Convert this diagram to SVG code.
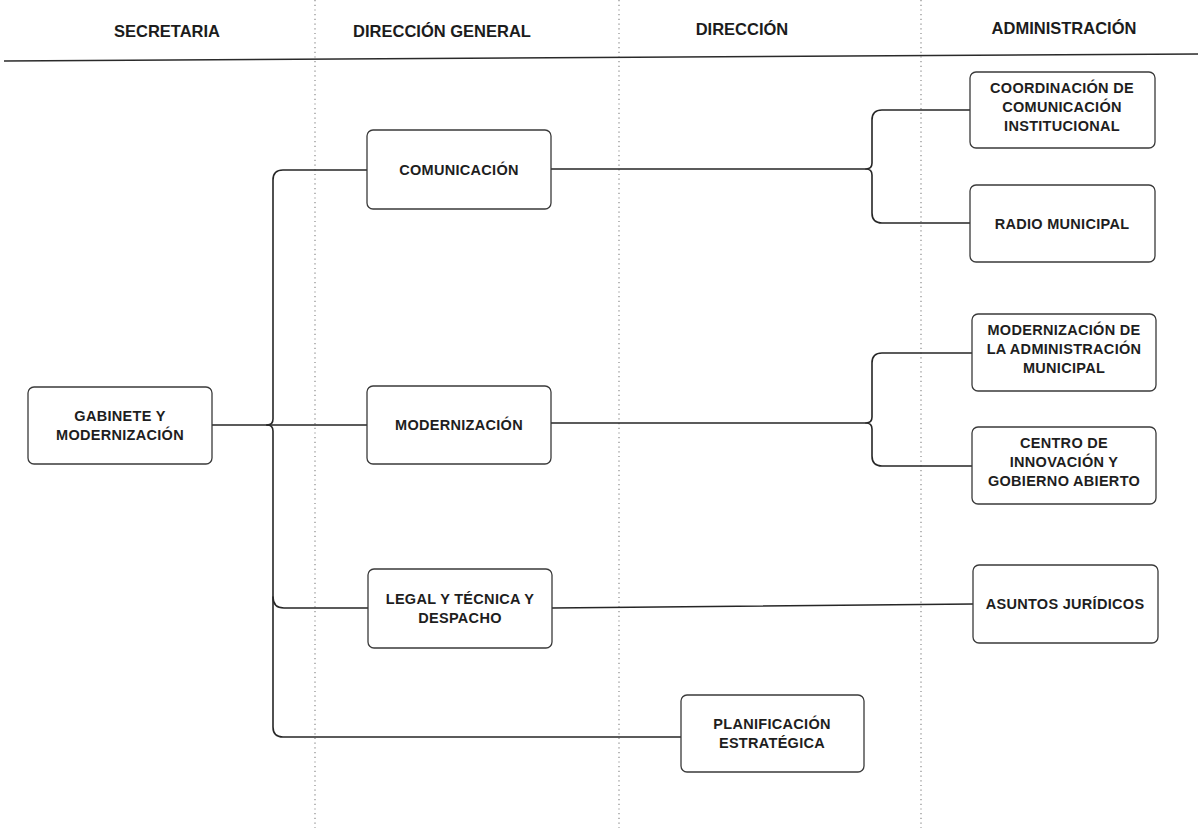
<svg xmlns="http://www.w3.org/2000/svg" width="1198" height="828" viewBox="0 0 1198 828">
<style>
.hdr{font-family:"Liberation Sans",Arial,sans-serif;font-weight:bold;font-size:16.5px;fill:#1c1c1c;text-anchor:middle}
.box{fill:#fff;stroke:#3a3a3a;stroke-width:1.3}
.lbl{font-family:"Liberation Sans",Arial,sans-serif;font-weight:bold;font-size:14.5px;letter-spacing:0.3px;fill:#1e1e1e;text-anchor:middle}
.dot{stroke:#8a8a8a;stroke-width:1.2;stroke-dasharray:1.2 3.5}
.con{fill:none;stroke:#262626;stroke-width:1.6;stroke-linecap:round;stroke-linejoin:round}
</style>
<rect width="1198" height="828" fill="#fff"/>
<g id="grid">
<line class="dot" x1="315" y1="0" x2="315" y2="828"/>
<line class="dot" x1="619" y1="0" x2="619" y2="828"/>
<line class="dot" x1="921" y1="0" x2="921" y2="828"/>
<line x1="4" y1="61" x2="1198" y2="54" stroke="#2a2a2a" stroke-width="1.6"/>
</g>
<g id="headers">
<text class="hdr" x="167" y="37">SECRETARIA</text>
<text class="hdr" x="442" y="37">DIRECCIÓN GENERAL</text>
<text class="hdr" x="742" y="35">DIRECCIÓN</text>
<text class="hdr" x="1064" y="34">ADMINISTRACIÓN</text>
</g>
<g id="connectors">
<path class="con" d="M212 425 H267"/>
<path class="con" d="M367 170 H283 Q273 170 273 180 V419 Q273 425 267 425 Q273 425 273 431 V727 Q273 737 283 737 H681"/>
<path class="con" d="M267 425 H367"/>
<path class="con" d="M273 597 Q273 608 284 608 H368"/>
<path class="con" d="M551 169 H866"/>
<path class="con" d="M970 110 H882 Q872 110 872 120 V163 Q872 169 866 169 Q872 169 872 175 V213 Q872 223 882 223 H970"/>
<path class="con" d="M551 423 H866"/>
<path class="con" d="M972 353 H882 Q872 353 872 363 V417 Q872 423 866 423 Q872 423 872 429 V456 Q872 466 882 466 H972"/>
<path class="con" d="M552 608 L973 604"/>
</g>
<g id="n-gabinete">
<rect class="box" x="28" y="387" width="184" height="77" rx="6"/>
<text class="lbl" x="120" y="421">GABINETE Y</text>
<text class="lbl" x="120" y="440">MODERNIZACIÓN</text>
</g>
<g id="n-comunicacion">
<rect class="box" x="367" y="130" width="184" height="79" rx="6"/>
<text class="lbl" x="459" y="175">COMUNICACIÓN</text>
</g>
<g id="n-modernizacion">
<rect class="box" x="367" y="386" width="184" height="78" rx="6"/>
<text class="lbl" x="459" y="430">MODERNIZACIÓN</text>
</g>
<g id="n-legal">
<rect class="box" x="368" y="569" width="184" height="79" rx="6"/>
<text class="lbl" x="460" y="604">LEGAL Y TÉCNICA Y</text>
<text class="lbl" x="460" y="623">DESPACHO</text>
</g>
<g id="n-planificacion">
<rect class="box" x="681" y="695" width="183" height="77" rx="6"/>
<text class="lbl" x="772" y="729">PLANIFICACIÓN</text>
<text class="lbl" x="772" y="748">ESTRATÉGICA</text>
</g>
<g id="n-coordinacion">
<rect class="box" x="970" y="72" width="185" height="76" rx="6"/>
<text class="lbl" x="1062" y="93">COORDINACIÓN DE</text>
<text class="lbl" x="1062" y="112">COMUNICACIÓN</text>
<text class="lbl" x="1062" y="131">INSTITUCIONAL</text>
</g>
<g id="n-radio">
<rect class="box" x="970" y="185" width="185" height="77" rx="6"/>
<text class="lbl" x="1062" y="229">RADIO MUNICIPAL</text>
</g>
<g id="n-modadm">
<rect class="box" x="972" y="314" width="184" height="77" rx="6"/>
<text class="lbl" x="1064" y="335">MODERNIZACIÓN DE</text>
<text class="lbl" x="1064" y="354">LA ADMINISTRACIÓN</text>
<text class="lbl" x="1064" y="373">MUNICIPAL</text>
</g>
<g id="n-centro">
<rect class="box" x="972" y="427" width="184" height="77" rx="6"/>
<text class="lbl" x="1064" y="448">CENTRO DE</text>
<text class="lbl" x="1064" y="467">INNOVACIÓN Y</text>
<text class="lbl" x="1064" y="486">GOBIERNO ABIERTO</text>
</g>
<g id="n-asuntos">
<rect class="box" x="973" y="565" width="185" height="78" rx="6"/>
<text class="lbl" x="1065" y="609">ASUNTOS JURÍDICOS</text>
</g>
</svg>
